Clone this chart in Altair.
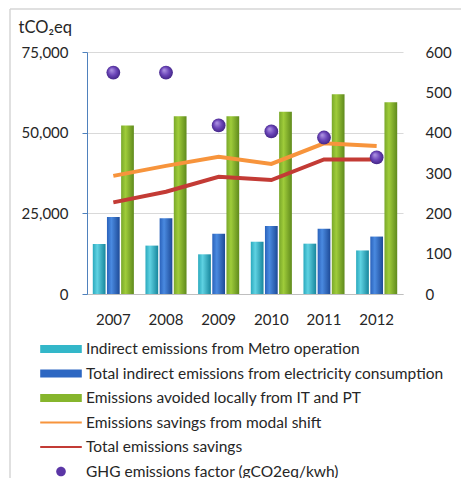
import altair as alt
import pandas as pd

years = ["2007", "2008", "2009", "2010", "2011", "2012"]
metro = [15500, 15000, 12300, 16200, 15600, 13500]
electricity = [23900, 23500, 18700, 21100, 20200, 17800]
avoided = [52200, 55100, 55100, 56500, 61900, 59400]
modal = [36600, 39700, 42500, 40300, 46700, 45900]
total = [28400, 31700, 36300, 35300, 41700, 41700]
ghg = [549, 549, 418, 403, 388, 339]

names = [
    "Indirect emissions from Metro operation",
    "Total indirect emissions from electricity consumption",
    "Emissions avoided locally from IT and PT",
    "Emissions savings from modal shift",
    "Total emissions savings",
    "GHG emissions factor (gCO2eq/kwh)",
]
colors = ["#33b7c9", "#2d67c2", "#86b52c", "#f7943c", "#c33b35", "#5b36a6"]
bar_names = names[:3]

bars = pd.DataFrame(
    [(y, names[0], v) for y, v in zip(years, metro)]
    + [(y, names[1], v) for y, v in zip(years, electricity)]
    + [(y, names[2], v) for y, v in zip(years, avoided)],
    columns=["year", "series", "value"],
)
lines = pd.DataFrame(
    [(y, names[3], v) for y, v in zip(years, modal)]
    + [(y, names[4], v) for y, v in zip(years, total)],
    columns=["year", "series", "value"],
)
points = pd.DataFrame({"year": years, "series": names[5], "value": ghg})
legend_df = pd.DataFrame({"series": names})
frame_df = pd.DataFrame({"a": [0]})

FONT = "Lato"
TXT = "#262626"

x_enc = alt.X(
    "year:N",
    sort=years,
    scale=alt.Scale(paddingInner=0.22, paddingOuter=0.11),
    axis=alt.Axis(
        title=None, labelAngle=0, ticks=False, domainColor="#bfbfbf",
        labelPadding=18, labelFontSize=15, labelFont=FONT, labelColor=TXT,
        grid=False,
    ),
)
y_left = alt.Y(
    "value:Q",
    scale=alt.Scale(domain=[0, 75000]),
    axis=alt.Axis(
        values=[0, 25000, 50000, 75000], format=",.0f", title="tCO₂eq",
        titleAngle=0, titleX=-69, titleY=-25, titleAlign="left",
        titleBaseline="middle", titleFontSize=16.5, titleFont=FONT,
        titleFontWeight="normal", titleColor=TXT,
        domainColor="#4f81bd", tickColor="#4f81bd", tickSize=5,
        labelPadding=14, labelFontSize=15, labelFont=FONT, labelColor=TXT,
        gridColor="#d9d9d9",
    ),
)
x_off = alt.XOffset(
    "series:N", scale=alt.Scale(domain=bar_names, paddingInner=0.1, paddingOuter=0)
)


def hgrad(edge, light, dark):
    return alt.LinearGradient(
        gradient="linear",
        stops=[
            alt.GradientStop(color=edge, offset=0),
            alt.GradientStop(color=light, offset=0.35),
            alt.GradientStop(color=dark, offset=1),
        ],
        x1=0, x2=1, y1=0, y2=0,
    )


grads = [
    hgrad("#2aa9bd", "#5fd2e2", "#17869c"),
    hgrad("#2a62bb", "#4a8ae0", "#1d4a97"),
    hgrad("#79a82a", "#9fcc3a", "#5f8a1c"),
]

bar_layers = []
for n, g in zip(bar_names, grads):
    bar_layers.append(
        alt.Chart(bars)
        .transform_filter(alt.datum.series == n)
        .mark_bar(fill=g)
        .encode(x=x_enc, xOffset=x_off, y=y_left)
    )

line_layers = []
for n, c in zip(names[3:5], colors[3:5]):
    line_layers.append(
        alt.Chart(lines)
        .transform_filter(alt.datum.series == n)
        .mark_line(color=c, strokeWidth=4)
        .encode(x=x_enc, y=y_left)
    )

frame_left = alt.Chart(frame_df).mark_rule(color="#d6d6d6", strokeWidth=1.5).encode(
    x=alt.value(-77), y=alt.value(-43), y2=alt.value(430)
)
frame_top = alt.Chart(frame_df).mark_rule(color="#d6d6d6", strokeWidth=1.5).encode(
    x=alt.value(-77), x2=alt.value(380), y=alt.value(-43)
)

left = alt.layer(frame_left, frame_top, *bar_layers, *line_layers)

point_grad = alt.RadialGradient(
    gradient="radial",
    stops=[
        alt.GradientStop(color="#b49be6", offset=0),
        alt.GradientStop(color="#6a44b8", offset=0.55),
        alt.GradientStop(color="#3e2280", offset=1),
    ],
    x1=0.35, y1=0.3, r1=0, x2=0.5, y2=0.5, r2=0.55,
)
pts = alt.Chart(points).mark_circle(size=190, fill=point_grad, opacity=1).encode(
    x=x_enc,
    y=alt.Y(
        "value:Q",
        scale=alt.Scale(domain=[0, 600]),
        axis=alt.Axis(
            orient="right", values=[0, 100, 200, 300, 400, 500, 600], title=None,
            domain=False, ticks=False, grid=False, labelPadding=22,
            labelFontSize=15, labelFont=FONT, labelColor=TXT,
        ),
    ),
)

shapes = [
    "M-2.6,-0.5H2.6V0.5H-2.6Z",
    "M-2.6,-0.5H2.6V0.5H-2.6Z",
    "M-2.6,-0.5H2.6V0.5H-2.6Z",
    "M-2.6,-0.13H2.6V0.13H-2.6Z",
    "M-2.6,-0.13H2.6V0.13H-2.6Z",
    "M0.6,0A0.6,0.6,0,1,1,-0.6,0A0.6,0.6,0,1,1,0.6,0Z",
]
legend_layer = alt.Chart(legend_df).mark_point(filled=True, size=0, opacity=1).encode(
    color=alt.Color(
        "series:N",
        scale=alt.Scale(domain=names, range=colors),
        legend=alt.Legend(
            title=None, orient="none", legendX=-34, legendY=289,
            symbolSize=256, symbolOpacity=1, symbolStrokeWidth=0,
            labelOffset=17, rowPadding=7.5, labelFontSize=15.5, labelFont=FONT,
            labelColor=TXT, labelLimit=600, padding=0,
        ),
    ),
    shape=alt.Shape("series:N", scale=alt.Scale(domain=names, range=shapes)),
)

right = alt.layer(pts, legend_layer)

chart = (
    alt.layer(left, right)
    .resolve_scale(y="independent")
    .properties(
        width=316,
        height=242,
        autosize=alt.AutoSizeParams(type="none"),
        padding={"left": 87, "top": 52, "right": 58, "bottom": 184},
        background="white",
    )
    .configure_view(stroke=None)
)

chart.save("out.html", embed_options={"renderer": "svg", "actions": False})
